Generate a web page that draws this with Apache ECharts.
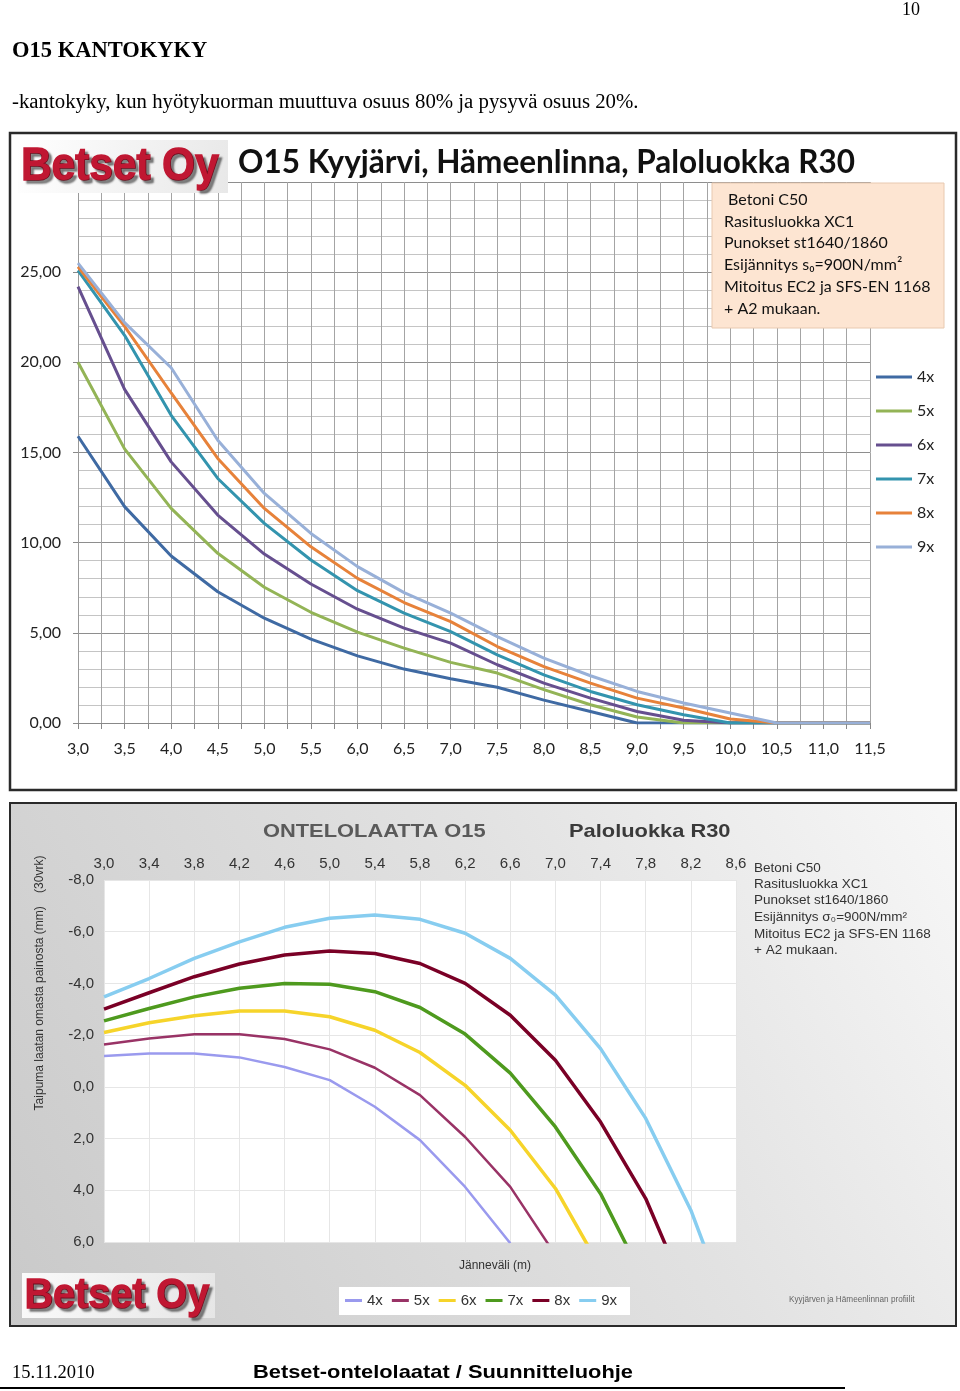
<!DOCTYPE html>
<html><head><meta charset="utf-8">
<script src="https://cdn.jsdelivr.net/npm/echarts@6/dist/echarts.min.js"></script>
<style>html,body{margin:0;padding:0;background:#fff}#c{width:960px;height:1391px}</style>
</head><body><div id="c"></div>
<script>
// ---------- Data: top chart (kantokyky vs jänneväli m) ----------
const topSpans = [3.0,3.5,4.0,4.5,5.0,5.5,6.0,6.5,7.0,7.5,8.0,8.5,9.0,9.5,10.0,10.5,11.0,11.5];
const topNames = ['4x','5x','6x','7x','8x','9x'];
const top4x = [15.9,12.0,9.26,7.28,5.81,4.65,3.72,2.99,2.45,1.98,1.27,0.64,0,0,0,0,0,0];
const top5x = [20.0,15.2,11.9,9.41,7.53,6.14,5.04,4.15,3.36,2.77,1.85,1.01,0.33,0,0,0,0,0];
const top6x = [24.2,18.5,14.48,11.53,9.37,7.71,6.31,5.26,4.43,3.23,2.21,1.38,0.64,0.15,0,0,0,0];
const top7x = [25.1,21.5,17.06,13.56,11.07,9.04,7.34,6.09,5.07,3.78,2.67,1.75,1.01,0.46,0,0,0,0];
const top8x = [25.3,22.0,18.3,14.67,11.9,9.77,8.02,6.68,5.62,4.24,3.13,2.21,1.38,0.83,0.22,0,0,0];
const top9x = [25.5,22.2,19.7,15.68,12.73,10.51,8.67,7.23,6.09,4.79,3.60,2.62,1.75,1.11,0.55,0,0,0];
const topColors = ['#3f6aa3','#93b456','#664f8f','#3394ae','#e7823a','#98b0d8'];

// ---------- Data: bottom chart (taipuma mm vs jänneväli m) ----------
const botSpans = ['3,0','3,4','3,8','4,2','4,6','5,0','5,4','5,8','6,2','6,6','7,0','7,4','7,8','8,2','8,6'];
const bot4x = [-1.19,-1.29,-1.29,-1.14,-0.77,-0.26,0.77,2.06,3.87,6.05,null,null,null,null,null];
const bot5x = [-1.64,-1.87,-2.03,-2.03,-1.85,-1.45,-0.74,0.32,1.94,3.87,6.5,null,null,null,null];
const bot6x = [-2.10,-2.48,-2.75,-2.93,-2.93,-2.71,-2.19,-1.33,-0.06,1.68,3.93,7.0,null,null,null];
const bot7x = [-2.55,-3.03,-3.48,-3.81,-4.0,-3.97,-3.68,-3.07,-2.04,-0.53,1.55,4.13,7.6,null,null];
const bot8x = [-3.01,-3.64,-4.26,-4.75,-5.10,-5.25,-5.16,-4.77,-4.0,-2.77,-1.03,1.36,4.32,8.4,null];
const bot9x = [-3.48,-4.19,-4.97,-5.61,-6.17,-6.52,-6.65,-6.48,-5.94,-4.97,-3.55,-1.48,1.22,4.77,9.4];
const botColors = ['#9a9aee','#993366','#f6d42a','#4e9a1e','#7a0026','#87cdf0'];
const botWidths = [2.5,2.5,3.5,3.5,3.5,3.5];

const topData = [top4x,top5x,top6x,top7x,top8x,top9x];
const botData = [bot4x,bot5x,bot6x,bot7x,bot8x,bot9x];
const botNames = topNames.map(n => 'B' + n);

const serif = "'Liberation Serif', 'DejaVu Serif', serif";
const sans = "'Liberation Sans', Arial, sans-serif";
const cal = "Lato, 'Open Sans', sans-serif";

const chart = echarts.init(document.getElementById('c'), null, {renderer:'canvas'});

const series = [];
topData.forEach((d,i) => {
  series.push({
    name: topNames[i], type:'line', xAxisIndex:0, yAxisIndex:0,
    data: d.map((v,j) => [topSpans[j], v]),
    symbol:'none', color: topColors[i],
    lineStyle:{width:3, color: topColors[i]}, z: 3 + i, animation:false
  });
});
botData.forEach((d,i) => {
  series.push({
    name: botNames[i], type:'line', xAxisIndex:1, yAxisIndex:1,
    data: d, symbol:'none', color: botColors[i], connectNulls:false,
    lineStyle:{width: botWidths[i], color: botColors[i]}, z: 3 + i, animation:false
  });
});

function txt(x, y, text, font, fill, align, extra, styleExtra) {
  const el = Object.assign({
    type:'text', x:x, y:y, z:50,
    style: Object.assign({text:text, font:font, fill:fill || '#000', textAlign: align || 'left', textVerticalAlign:'middle'}, styleExtra || {})
  }, extra || {});
  return el;
}
const logoStyle = {textShadowColor:'rgba(0,0,0,0.45)', textShadowBlur:2, textShadowOffsetX:3, textShadowOffsetY:3,
                   stroke:'#c01732', lineWidth:1.6};

const infoTop = [' Betoni C50','Rasitusluokka XC1','Punokset st1640/1860','Esijännitys s\u2080=900N/mm\u00B2','Mitoitus EC2 ja SFS-EN 1168','+ A2 mukaan.'];
const infoTopY = [200,222,243,265,287,309];
const infoBot = ['Betoni C50','Rasitusluokka XC1','Punokset st1640/1860','Esijännitys \u03C3\u2080=900N/mm\u00B2','Mitoitus EC2 ja SFS-EN 1168','+ A2 mukaan.'];
const infoBotY = [868,884,900,917,934,950];

const graphics = [
  // page header
  txt(911, 10, '10', '18px ' + serif, '#000', 'center'),
  txt(12, 51, 'O15 KANTOKYKY', 'bold 22.5px ' + serif, '#000'),
  txt(12, 103, '-kantokyky, kun hyötykuorman muuttuva osuus 80% ja pysyvä osuus 20%.', '20.8px ' + serif, '#000'),
  // top frame
  {type:'rect', z:-10, shape:{x:10,y:133,width:946,height:657}, style:{fill:'#fff', stroke:'#2a2a2a', lineWidth:2.5}},
  // top logo
  {type:'rect', z:40, shape:{x:18,y:140,width:210,height:53},
   style:{fill:new echarts.graphic.LinearGradient(0,0,1,1,[{offset:0,color:'#ffffff'},{offset:1,color:'#e8e8e8'}])}},
  txt(120, 167, 'Betset Oy', 'bold 46px ' + sans, '#c01732', 'center', {scaleX:0.92}, logoStyle),
  // top title
  txt(238, 163, 'O15 Kyyjärvi, Hämeenlinna, Paloluokka R30', 'bold 31.5px ' + cal, '#111'),
  // info box
  {type:'rect', z:40, shape:{x:712,y:183,width:232,height:145}, style:{fill:'#fde5d2', stroke:'#e8c9b0', lineWidth:1}},
  // bottom frame
  {type:'rect', z:-10, shape:{x:10,y:803,width:946,height:523},
   style:{fill:new echarts.graphic.LinearGradient(0,1,1,0,[{offset:0,color:'#c9c9c9'},{offset:0.6,color:'#e2e2e2'},{offset:1,color:'#f7f7f7'}]), stroke:'#2a2a2a', lineWidth:2}},
  txt(263, 832, 'ONTELOLAATTA O15', 'bold 19px ' + sans, '#5a5a5a', 'left', {scaleX:1.15}),
  txt(569, 832, 'Paloluokka R30', 'bold 19px ' + sans, '#3a3a3a', 'left', {scaleX:1.15}),
  txt(40, 983, 'Taipuma laatan omasta painosta (mm)    (30vrk)', '12px ' + sans, '#333', 'center', {rotation: Math.PI/2}),
  txt(495, 1266, 'Jänneväli (m)', '12px ' + sans, '#333', 'center'),
  {type:'rect', z:20, shape:{x:339,y:1287,width:291,height:28}, style:{fill:'#fff'}},
  txt(789, 1300, 'Kyyjärven ja Hämeenlinnan profiilit', '8.2px ' + sans, '#666'),
  {type:'rect', z:40, shape:{x:22,y:1273,width:193,height:45},
   style:{fill:new echarts.graphic.LinearGradient(0,0,1,1,[{offset:0,color:'#fafafa'},{offset:1,color:'#e6e6e6'}])}},
  txt(117, 1296, 'Betset Oy', 'bold 43px ' + sans, '#c01732', 'center', {scaleX:0.92}, logoStyle),
  // footer
  txt(12, 1373, '15.11.2010', '18.5px ' + serif, '#000'),
  txt(253, 1373, 'Betset-ontelolaatat / Suunnitteluohje', 'bold 19px ' + sans, '#000', 'left', {scaleX:1.15}),
  {type:'line', z:50, shape:{x1:0,y1:1388,x2:845,y2:1388}, style:{stroke:'#000', lineWidth:2}}
];
infoTop.forEach((t,i) => graphics.push(txt(724, infoTopY[i], t, '16px ' + cal, '#111')));
infoBot.forEach((t,i) => graphics.push(txt(754, infoBotY[i], t, '13.5px ' + sans, '#333')));

const fmtTopX = v => {
  const r = Math.round(v*2);
  return Math.abs(v*2 - r) < 1e-6 ? v.toFixed(1).replace('.', ',') : '';
};

const option = {
  backgroundColor:'#fff',
  animation:false,
  graphic: graphics,
  legend: [
    {data: topNames, orient:'vertical', left:871, top:364, itemWidth:36, itemHeight:3, itemGap:18,
     icon:'rect', textStyle:{fontSize:16, lineHeight:16, fontFamily:cal, color:'#222'}, selectedMode:false, z:60},
    {data: botNames, orient:'horizontal', left:340, top:1288, itemWidth:17, itemHeight:3, itemGap:9,
     icon:'rect', formatter: n => n.replace(/^B/, ''), textStyle:{fontSize:15, fontFamily:sans, color:'#333'}, selectedMode:false, z:60}
  ],
  grid: [
    {left:78, right:90, top:182, bottom:668, outerBoundsMode:'none', containLabel:false},
    {left:104, right:224, top:880, bottom:149, outerBoundsMode:'none', containLabel:false, show:true, backgroundColor:'#fff', borderWidth:0}
  ],
  xAxis: [
    {type:'value', gridIndex:0, min:3, max:11.5, interval:0.5,
     axisLine:{show:true, lineStyle:{color:'#888', width:1}},
     axisTick:{show:true, length:6, lineStyle:{color:'#888'}},
     minorTick:{show:true, splitNumber:2, length:6, lineStyle:{color:'#888'}},
     splitLine:{show:true, lineStyle:{color:'#a4a4a4', width:1}},
     minorSplitLine:{show:true, lineStyle:{color:'#a4a4a4', width:1}},
     axisLabel:{formatter: fmtTopX, fontSize:16, fontFamily:cal, color:'#222', margin:18, showMinLabel:true, showMaxLabel:true}},
    {type:'category', gridIndex:1, data: botSpans, boundaryGap:false, position:'top',
     axisLine:{show:false}, axisTick:{show:false},
     splitLine:{show:true, lineStyle:{color:'#e6e6e6', width:1}},
     axisLabel:{fontSize:15, fontFamily:sans, color:'#333', margin:9, interval:0}}
  ],
  yAxis: [
    {type:'value', gridIndex:0, min:0, max:30, interval:5,
     axisLine:{show:true, lineStyle:{color:'#999'}},
     axisTick:{show:true, length:5, lineStyle:{color:'#888'}},
     splitLine:{show:true, lineStyle:{color:'#8e8e8e', width:1}},
     minorSplitLine:{show:true, lineStyle:{color:'#c4c4c4', width:1}},
     minorTick:{show:false, splitNumber:5},
     axisLabel:{formatter: v => v >= 30 ? '' : v.toFixed(2).replace('.', ','), fontSize:16, fontFamily:cal, color:'#222', margin:17}},
    {type:'value', gridIndex:1, min:-8, max:6, interval:2, inverse:true,
     axisLine:{show:false}, axisTick:{show:false},
     splitLine:{show:true, lineStyle:{color:'#e6e6e6', width:1}},
     axisLabel:{formatter: v => v.toFixed(1).replace('.', ','), fontSize:15, fontFamily:sans, color:'#333', margin:10}}
  ],
  series: series
};
chart.setOption(option);
</script>
</body></html>
